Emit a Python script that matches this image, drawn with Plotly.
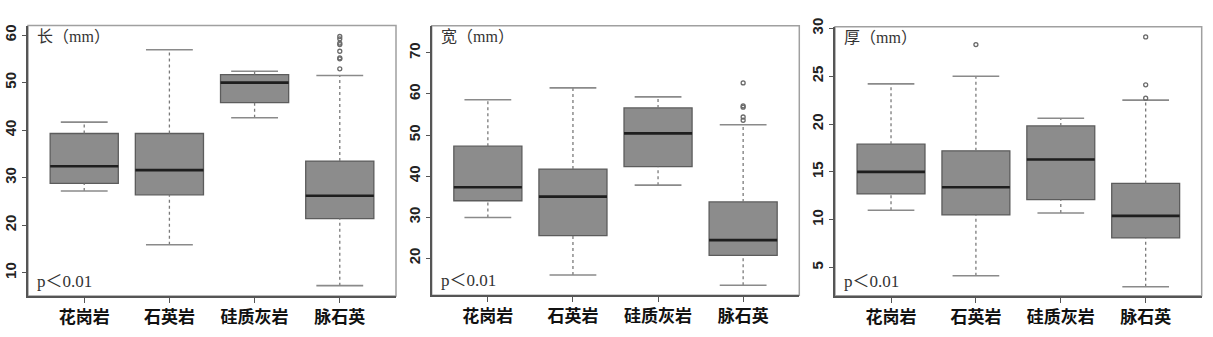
import plotly.graph_objects as go

categories = ["花岗岩", "石英岩", "硅质灰岩", "脉石英"]

# 长 (mm)
len_low = [27.2, 15.9, 42.6, 7.3]
len_q1 = [28.8, 26.4, 45.8, 21.4]
len_med = [32.4, 31.6, 50.0, 26.2]
len_q3 = [39.3, 39.3, 51.7, 33.5]
len_high = [41.7, 56.9, 52.4, 51.5]
len_out_cat = ["脉石英"] * 8
len_out_val = [52.9, 55.0, 55.2, 56.6, 58.0, 58.3, 59.2, 59.7]

# 宽 (mm)
wid_low = [29.9, 15.9, 37.8, 13.4]
wid_q1 = [34.0, 25.5, 42.3, 20.7]
wid_med = [37.3, 35.0, 50.4, 24.4]
wid_q3 = [47.3, 41.7, 56.6, 33.7]
wid_high = [58.6, 61.5, 59.3, 52.5]
wid_out_cat = ["脉石英"] * 5
wid_out_val = [53.6, 54.4, 56.8, 57.1, 62.7]

# 厚 (mm)
thk_low = [11.0, 4.15, 10.7, 3.0]
thk_q1 = [12.7, 10.5, 12.1, 8.1]
thk_med = [15.0, 13.4, 16.3, 10.4]
thk_q3 = [17.9, 17.2, 19.8, 13.8]
thk_high = [24.2, 25.0, 20.6, 22.5]
thk_out_cat = ["石英岩", "脉石英", "脉石英", "脉石英"]
thk_out_val = [28.3, 22.7, 24.1, 29.1]

titles = ["长（mm）", "宽（mm）", "厚（mm）"]
p_text = "p＜0.01"
y_ticks = [[10, 20, 30, 40, 50, 60], [20, 30, 40, 50, 60, 70], [5, 10, 15, 20, 25, 30]]
y_ranges = [[5.1, 62.0], [11.0, 76.6], [2.05, 30.16]]

panels = [
    (len_low, len_q1, len_med, len_q3, len_high, len_out_cat, len_out_val),
    (wid_low, wid_q1, wid_med, wid_q3, wid_high, wid_out_cat, wid_out_val),
    (thk_low, thk_q1, thk_med, thk_q3, thk_high, thk_out_cat, thk_out_val),
]

W, H = 1213, 337
x_domains = [[28 / W, 396 / W], [431.7 / W, 799.3 / W], [835 / W, 1201.7 / W]]
y_domains = [[1 - 295 / H, 1 - 17 / H], [1 - 294 / H, 1 - 17.3 / H], [1 - 294.7 / H, 1 - 18.3 / H]]

BOX_W = 0.8
CAP_HALF = 0.275

fig = go.Figure()
layout = dict(
    width=W, height=H,
    margin=dict(l=0, r=0, t=0, b=0),
    paper_bgcolor="white", plot_bgcolor="white",
    showlegend=False,
    shapes=[], annotations=[],
)

pos = list(range(1, len(categories) + 1))

for k, (low, q1, med, q3, high, oc, ov) in enumerate(panels):
    xa = "x" if k == 0 else f"x{k+1}"
    ya = "y" if k == 0 else f"y{k+1}"
    # whiskers (dotted)
    wx, wy = [], []
    for i, p in enumerate(pos):
        wx += [p, p, None, p, p, None]
        wy += [low[i], q1[i], None, q3[i], high[i], None]
    fig.add_trace(go.Scatter(x=wx, y=wy, mode="lines", xaxis=xa, yaxis=ya,
                             line=dict(color="#7a7a7a", width=1.3, dash="dot"), hoverinfo="skip"))
    # caps
    cx, cy = [], []
    for i, p in enumerate(pos):
        cx += [p - CAP_HALF, p + CAP_HALF, None, p - CAP_HALF, p + CAP_HALF, None]
        cy += [low[i], low[i], None, high[i], high[i], None]
    fig.add_trace(go.Scatter(x=cx, y=cy, mode="lines", xaxis=xa, yaxis=ya,
                             line=dict(color="#8a8a8a", width=1.6), hoverinfo="skip"))
    # boxes
    fig.add_trace(go.Box(x=pos, q1=q1, median=med, q3=q3, lowerfence=q1, upperfence=q3,
                         width=BOX_W, xaxis=xa, yaxis=ya, boxpoints=False,
                         fillcolor="#8c8c8c", line=dict(color="#5c5c5c", width=1.3),
                         whiskerwidth=0, hoverinfo="skip"))
    # medians
    mx, my = [], []
    for i, p in enumerate(pos):
        mx += [p - BOX_W / 2, p + BOX_W / 2, None]
        my += [med[i], med[i], None]
    fig.add_trace(go.Scatter(x=mx, y=my, mode="lines", xaxis=xa, yaxis=ya,
                             line=dict(color="#1e1e1e", width=2.6), hoverinfo="skip"))
    # outliers
    ox = [categories.index(c) + 1 for c in oc]
    fig.add_trace(go.Scatter(x=ox, y=ov, mode="markers", xaxis=xa, yaxis=ya,
                             marker=dict(symbol="circle-open", size=4, color="#6a6a6a",
                                         line=dict(width=1.3)), hoverinfo="skip"))

    xkey = "xaxis" if k == 0 else f"xaxis{k+1}"
    ykey = "yaxis" if k == 0 else f"yaxis{k+1}"
    layout[xkey] = dict(
        domain=x_domains[k], anchor=ya, range=[0.34, 4.66],
        tickmode="array", tickvals=pos, ticktext=categories,
        ticks="outside", ticklen=5, tickcolor="#555", tickwidth=1.2,
        showline=True, linecolor="#555", linewidth=1.5, mirror=False,
        showgrid=False, zeroline=False,
        tickfont=dict(family="Noto Sans CJK SC", size=17, color="#111", weight="bold"),
    )
    layout[ykey] = dict(
        domain=y_domains[k], anchor=xa, range=y_ranges[k],
        tickmode="array", tickvals=y_ticks[k], tickangle=-90,
        ticks="outside", ticklen=4, tickcolor="#555", tickwidth=1.2,
        showline=True, linecolor="#555", linewidth=1.5, mirror=False,
        showgrid=False, zeroline=False,
        tickfont=dict(family="Liberation Sans", size=15, color="#222", weight="bold"),
    )
    layout["shapes"].append(dict(
        type="rect", xref=f"{xa} domain", yref=f"{ya} domain",
        x0=0, x1=1, y0=0, y1=1, line=dict(color="#a0a0a0", width=1.5), layer="below"))
    layout["annotations"].append(dict(
        text=titles[k], xref=f"{xa} domain", yref=f"{ya} domain",
        x=0.02, y=1.0, xanchor="left", yanchor="top", showarrow=False,
        font=dict(family="Liberation Serif, Noto Sans CJK SC", size=16, color="#333")))
    layout["annotations"].append(dict(
        text=p_text, xref=f"{xa} domain", yref=f"{ya} domain",
        x=0.02, y=0.0, xanchor="left", yanchor="bottom", yshift=3, showarrow=False,
        font=dict(family="Liberation Serif, Noto Sans CJK SC", size=17, color="#333")))

fig.update_layout(**layout)
fig.write_html("out.html")
